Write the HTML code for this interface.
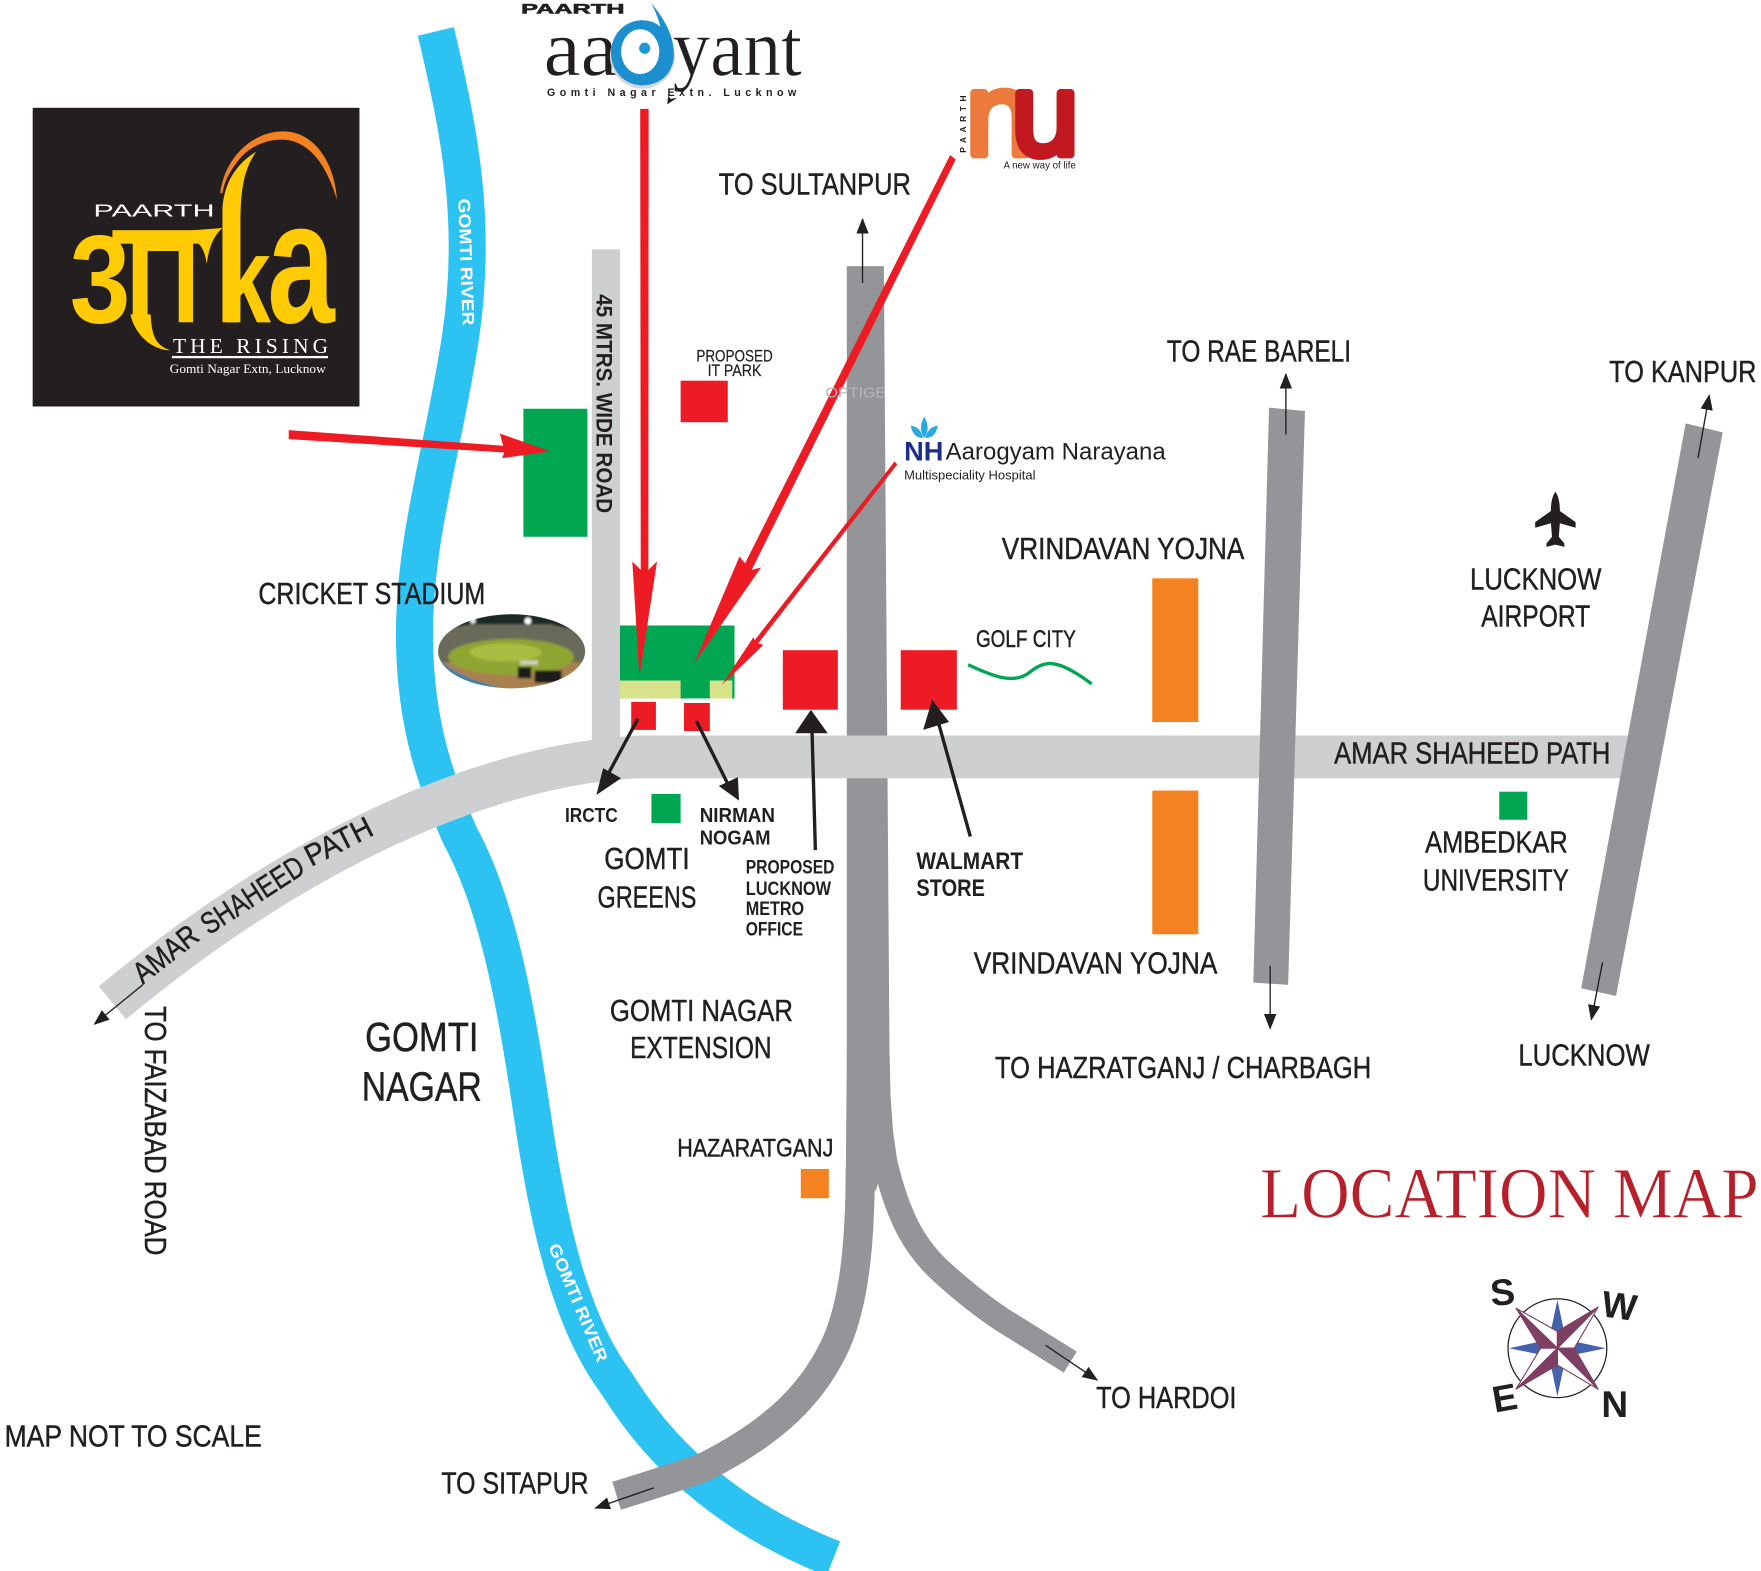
<!DOCTYPE html>
<html><head><meta charset="utf-8"><title>Location Map</title>
<style>
html,body{margin:0;padding:0;background:#fff}
svg{display:block}
text{font-family:"Liberation Sans Narrow","Liberation Sans",sans-serif;fill:#231f20}
.l text{stroke:#231f20;stroke-width:.4}
.s{font-family:"Liberation Serif",serif}
.w{font-family:"Liberation Sans",sans-serif}
</style></head><body>
<svg xmlns="http://www.w3.org/2000/svg" width="1761" height="1571" viewBox="0 0 1568 1399">
<defs>
<marker id="t" markerWidth="14" markerHeight="11" refX="13" refY="5.5" orient="auto" markerUnits="userSpaceOnUse"><path d="M0,0L14,5.5L0,11Z" fill="#231f20"/></marker>
<clipPath id="st"><ellipse cx="455.5" cy="580" rx="65.5" ry="33"/></clipPath>
<filter id="bl"><feGaussianBlur stdDeviation="1"/></filter>
</defs>
<rect width="1568" height="1399" fill="#fff"/>
<!-- river -->
<path d="M388,28C410,120 425,200 410,300C395,400 368,480 369,570C370,650 390,700 410,745C445,810 460,900 475,1000C490,1100 510,1180 549,1232C570,1265 620,1340 742,1388" fill="none" stroke="#2cc3f3" stroke-width="33"/>
<!-- dark roads -->
<path d="M754,237L787,237L792,935L793,977L795,1005L780,1060L753,1060L754,935Z" fill="#939598"/>
<path d="M766,1040C766,1110 760,1160 745,1195C725,1240 690,1275 626,1307C600,1316 575,1324 549,1332" fill="none" stroke="#939598" stroke-width="26"/>
<path d="M783,1000L788,1035C800,1085 815,1112 840,1134C860,1152 880,1167 892,1175L953,1213" fill="none" stroke="#939598" stroke-width="22"/>
<!-- light roads -->
<rect x="527" y="222" width="25" height="450" fill="#cdcfd1"/>
<path d="M1450,674L570,674C430,680 260,760 100,893" fill="none" stroke="#cdcfd1" stroke-width="38"/>
<!-- side roads -->
<polygon points="1130,363 1162,366 1147,877 1116,875" fill="#939598"/>
<polygon points="1501,377 1534,385 1439,887 1408,880" fill="#939598"/>
<!-- blocks -->
<rect x="1026" y="515" width="41" height="128" fill="#f58220"/>
<rect x="1026" y="704" width="41" height="128" fill="#f58220"/>
<rect x="466" y="364" width="57" height="114" fill="#00a651"/>
<rect x="606" y="339" width="42" height="37" fill="#ed1c24"/>
<rect x="552" y="557" width="102" height="65" fill="#00a651"/>
<rect x="552" y="606" width="54" height="16" fill="#d7e28b"/>
<rect x="632" y="606" width="20" height="16" fill="#d7e28b"/>
<rect x="562" y="625" width="22" height="25" fill="#ed1c24"/>
<rect x="609" y="626" width="23" height="25" fill="#ed1c24"/>
<rect x="697" y="579" width="49" height="53" fill="#ed1c24"/>
<rect x="802" y="579" width="50" height="53" fill="#ed1c24"/>
<rect x="580" y="707" width="26" height="26" fill="#00a651"/>
<rect x="1335" y="705" width="25" height="25" fill="#00a651"/>
<rect x="713" y="1041" width="25" height="26" fill="#f58220"/>
<!-- stadium -->
<g clip-path="url(#st)"><g filter="url(#bl)">
<rect x="385" y="542" width="142" height="76" fill="#a9814f"/>
<rect x="385" y="542" width="142" height="20" fill="#1b2a25"/>
<path d="M385,562L420,556L490,556L527,565V590H385Z" fill="#6b6a5a"/>
<ellipse cx="455" cy="585" rx="56" ry="16" fill="#8fa533"/>
<ellipse cx="450" cy="581" rx="32" ry="8" fill="#a9bd43"/>
<path d="M388,585C405,600 420,606 445,612L420,616L385,600Z" fill="#3a7fa5"/>
<circle cx="470" cy="553" r="3" fill="#fff"/><circle cx="421" cy="553" r="2.5" fill="#e8e8e8"/>
<rect x="461" y="594" width="12" height="10" fill="#1c1f1a"/>
<rect x="476" y="597" width="24" height="11" fill="#1c1f1a"/>
<rect x="463" y="588" width="16" height="4" fill="#cfd0b8"/>
</g></g>
<!-- red arrows -->
<polygon points="570,97 577.5,97 577.3,507.5 585,500 569.3,603 563,500 570.5,507.5" fill="#ed1c24"/>
<polygon points="846,138 851,142 669.3,507.5 677.7,505.4 618,591 658.4,495.6 663.4,501.6" fill="#ed1c24"/>
<polygon points="796.5,411 799,413.5 675,573 679.7,574.3 642.6,610 670.8,567.5 672,570" fill="#ed1c24"/>
<polygon points="257,383 448,397 445,386 490,402 447,408 449,403 257,391" fill="#ed1c24"/>
<!-- black arrows -->
<g stroke="#231f20" stroke-width="3" fill="#231f20">
<line x1="568" y1="640" x2="540" y2="692"/><polygon stroke="none" points="531,708 537,684 553,693"/>
<line x1="620" y1="642" x2="648" y2="698"/><polygon stroke="none" points="658,713 640,700 657,692"/>
<line x1="726" y1="757" x2="723" y2="650"/><polygon stroke="none" points="722,632 737,653 708,653"/>
<line x1="864" y1="745" x2="836" y2="645"/><polygon stroke="none" points="830,623 845,643 822,650"/>
</g>
<g stroke="#231f20" stroke-width="1.2" fill="none">
<line x1="768" y1="252" x2="768" y2="195" marker-end="url(#t)"/>
<line x1="1145" y1="387" x2="1145" y2="333" marker-end="url(#t)"/>
<line x1="1512" y1="408" x2="1522" y2="352" marker-end="url(#t)"/>
<line x1="1131" y1="860" x2="1131" y2="916" marker-end="url(#t)"/>
<line x1="1427" y1="857" x2="1417" y2="908" marker-end="url(#t)"/>
<line x1="127" y1="877" x2="84" y2="912" marker-end="url(#t)"/>
<line x1="582" y1="1325" x2="530" y2="1343" marker-end="url(#t)"/>
<line x1="931" y1="1198" x2="977" y2="1229" marker-end="url(#t)"/>
</g>
<path d="M862,592C880,600 900,610 915,600C930,588 940,585 972,609" fill="none" stroke="#00a651" stroke-width="3"/>
<!-- airplane -->
<path d="M1385,438C1388,442 1389,448 1389,455L1403,465V470L1389,466L1388,478L1393,484V487L1385,485L1377,487V484L1382,478L1381,466L1367,470V465L1381,455C1381,448 1382,442 1385,438Z" fill="#231f20"/>
<!-- compass -->
<circle cx="1386.8" cy="1200.6" r="44" fill="#fff" stroke="#231f20" stroke-width="1.1"/>
<polygon points="1386.8,1157.6 1394.3,1193 1429.8,1200.6 1394.3,1208 1386.8,1243.6 1379.3,1208 1343.8,1200.6 1379.3,1193" fill="#4562ad"/>
<g stroke="#7f3f63" stroke-width="1" stroke-linejoin="round">
<polygon points="1350,1165 1386.8,1185.6 1386.8,1200.6" fill="#fff"/>
<polygon points="1350,1165 1371.8,1200.6 1386.8,1200.6" fill="#7f3f63"/>
<polygon points="1423,1164 1401.8,1200.6 1386.8,1200.6" fill="#fff"/>
<polygon points="1423,1164 1386.8,1185.6 1386.8,1200.6" fill="#7f3f63"/>
<polygon points="1423,1237 1386.8,1215.6 1386.8,1200.6" fill="#fff"/>
<polygon points="1423,1237 1401.8,1200.6 1386.8,1200.6" fill="#7f3f63"/>
<polygon points="1350,1237 1371.8,1200.6 1386.8,1200.6" fill="#fff"/>
<polygon points="1350,1237 1386.8,1215.6 1386.8,1200.6" fill="#7f3f63"/>
</g>
<text class="w" font-weight="bold" transform="translate(1328,1163) rotate(-5)" font-size="33">S</text>
<text class="w" font-weight="bold" transform="translate(1425,1172) rotate(8)" font-size="33">W</text>
<text class="w" font-weight="bold" transform="translate(1331,1258) rotate(-10)" font-size="33">E</text>
<text class="w" font-weight="bold" transform="translate(1426,1262)" font-size="33">N</text>
<!-- labels -->
<g class="l">
<g font-size="27">
<text x="640" y="173" textLength="171" lengthAdjust="spacingAndGlyphs">TO SULTANPUR</text>
<text x="1039" y="322" textLength="164" lengthAdjust="spacingAndGlyphs">TO RAE BARELI</text>
<text x="1433" y="340" textLength="131" lengthAdjust="spacingAndGlyphs">TO KANPUR</text>
<text x="892" y="498" textLength="216" lengthAdjust="spacingAndGlyphs">VRINDAVAN YOJNA</text>
<text x="1309" y="525" textLength="117" lengthAdjust="spacingAndGlyphs">LUCKNOW</text>
<text x="1319" y="558" textLength="97" lengthAdjust="spacingAndGlyphs">AIRPORT</text>
<text x="230" y="538" textLength="202" lengthAdjust="spacingAndGlyphs">CRICKET STADIUM</text>
<text x="1188" y="680" textLength="246" lengthAdjust="spacingAndGlyphs">AMAR SHAHEED PATH</text>
<text x="1269" y="759" textLength="127" lengthAdjust="spacingAndGlyphs">AMBEDKAR</text>
<text x="1267" y="793" textLength="130" lengthAdjust="spacingAndGlyphs">UNIVERSITY</text>
<text x="538" y="774" textLength="76" lengthAdjust="spacingAndGlyphs">GOMTI</text>
<text x="532" y="808" textLength="88" lengthAdjust="spacingAndGlyphs">GREENS</text>
<text x="867" y="867" textLength="217" lengthAdjust="spacingAndGlyphs">VRINDAVAN YOJNA</text>
<text x="543" y="909" textLength="163" lengthAdjust="spacingAndGlyphs">GOMTI NAGAR</text>
<text x="561" y="942" textLength="126" lengthAdjust="spacingAndGlyphs">EXTENSION</text>
<text x="886" y="960" textLength="335" lengthAdjust="spacingAndGlyphs">TO HAZRATGANJ / CHARBAGH</text>
<text x="1352" y="949" textLength="117" lengthAdjust="spacingAndGlyphs">LUCKNOW</text>
<text x="4" y="1288" textLength="229" lengthAdjust="spacingAndGlyphs">MAP NOT TO SCALE</text>
<text x="393" y="1330" textLength="131" lengthAdjust="spacingAndGlyphs">TO SITAPUR</text>
<text x="976" y="1254" textLength="125" lengthAdjust="spacingAndGlyphs">TO HARDOI</text>
<text transform="translate(129,896) rotate(90)" textLength="222" lengthAdjust="spacingAndGlyphs">TO FAIZABAD ROAD</text>
<text transform="translate(127,877) rotate(-38)" textLength="66" lengthAdjust="spacingAndGlyphs">AMAR</text>
<text transform="translate(186,833) rotate(-33)" textLength="104" lengthAdjust="spacingAndGlyphs">SHAHEED</text>
<text transform="translate(277,772) rotate(-27)" textLength="64" lengthAdjust="spacingAndGlyphs">PATH</text>
</g>
<text x="325" y="936" font-size="36" textLength="101" lengthAdjust="spacingAndGlyphs">GOMTI</text>
<text x="322" y="980" font-size="36" textLength="107" lengthAdjust="spacingAndGlyphs">NAGAR</text>
<text x="869" y="576" font-size="21" textLength="89" lengthAdjust="spacingAndGlyphs">GOLF CITY</text>
<text x="603" y="1030" font-size="22" textLength="139" lengthAdjust="spacingAndGlyphs">HAZARATGANJ</text>
<text x="620" y="322" font-size="15" textLength="68" lengthAdjust="spacingAndGlyphs" style="stroke-width:.2">PROPOSED</text>
<text x="630" y="335" font-size="15" textLength="48" lengthAdjust="spacingAndGlyphs" style="stroke-width:.2">IT PARK</text>
</g>
<g font-weight="bold">
<text x="503" y="732" font-size="18" textLength="47" lengthAdjust="spacingAndGlyphs">IRCTC</text>
<text x="623" y="732" font-size="18" textLength="67" lengthAdjust="spacingAndGlyphs">NIRMAN</text>
<text x="623" y="752" font-size="18" textLength="63" lengthAdjust="spacingAndGlyphs">NOGAM</text>
<text x="664" y="778" font-size="17" textLength="79" lengthAdjust="spacingAndGlyphs">PROPOSED</text>
<text x="664" y="797" font-size="17" textLength="76" lengthAdjust="spacingAndGlyphs">LUCKNOW</text>
<text x="664" y="815" font-size="17" textLength="52" lengthAdjust="spacingAndGlyphs">METRO</text>
<text x="664" y="833" font-size="17" textLength="51" lengthAdjust="spacingAndGlyphs">OFFICE</text>
<text x="816" y="774" font-size="21" textLength="95" lengthAdjust="spacingAndGlyphs">WALMART</text>
<text x="816" y="798" font-size="21" textLength="61" lengthAdjust="spacingAndGlyphs">STORE</text>
<text transform="translate(531,262) rotate(90)" font-size="20" textLength="195" lengthAdjust="spacingAndGlyphs">45 MTRS. WIDE ROAD</text>
</g>
<text class="w" font-weight="bold" transform="translate(408,177) rotate(88)" font-size="15" textLength="113" lengthAdjust="spacingAndGlyphs" style="fill:#fff">GOMTI RIVER</text>
<text class="w" font-weight="bold" transform="translate(488,1110) rotate(67)" font-size="15" textLength="113" lengthAdjust="spacingAndGlyphs" style="fill:#fff">GOMTI RIVER</text>
<text x="735" y="354" font-size="13" textLength="54" lengthAdjust="spacingAndGlyphs" style="fill:#b4b6b8">OPTIGE</text>
<text class="s" x="1122" y="1084" font-size="64" textLength="444" lengthAdjust="spacingAndGlyphs" style="fill:#b5202b;stroke:#fff;stroke-width:.5">LOCATION MAP</text>
<!-- hospital -->
<path d="M823,371C827,378 827,384 823,390C819,384 819,378 823,371ZM811,379C818,380 821,385 822,390C815,390 812,385 811,379ZM835,379C828,380 825,385 824,390C831,390 834,385 835,379Z" fill="#29a9e0"/>
<text class="w" font-weight="bold" x="805" y="410" font-size="24" textLength="35" lengthAdjust="spacingAndGlyphs" style="fill:#1d2e8a">NH</text>
<text class="w" x="842" y="409" font-size="21" textLength="196" lengthAdjust="spacingAndGlyphs">Aarogyam Narayana</text>
<text class="w" x="805" y="427" font-size="11.5" textLength="117" lengthAdjust="spacingAndGlyphs">Multispeciality Hospital</text>
<!-- Aadyant logo -->
<text class="w" font-weight="bold" x="464" y="12" font-size="12.5" textLength="92" lengthAdjust="spacingAndGlyphs" style="stroke:#231f20;stroke-width:.5">PAARTH</text>
<text class="s" x="484" y="67" font-size="72" textLength="66" lengthAdjust="spacingAndGlyphs" style="stroke:#fff;stroke-width:.5">aa</text>
<text class="s" x="599" y="67" font-size="72" textLength="115" lengthAdjust="spacingAndGlyphs" style="stroke:#fff;stroke-width:.5">yant</text>
<ellipse cx="572" cy="50" rx="29" ry="29" fill="#d5d7d9"/>
<path d="M580,3C590,15 600,30 600,48C600,65 588,76 572,76C556,76 544,63 544,47C544,31 556,18 572,18C578,18 584,20 588,24C586,16 583,9 580,3Z" fill="#1c8fcf"/>
<ellipse cx="570" cy="46" rx="17" ry="20" fill="#fff"/>
<circle cx="574" cy="43" r="5" fill="#1c9ad6"/>
<text class="w" font-weight="bold" x="487" y="85.5" font-size="9.5" textLength="222">Gomti Nagar Extn. Lucknow</text>
<polygon points="594,93 603,87 597,88 595,85" fill="#231f20"/>
<!-- Nu logo -->
<text class="w" font-weight="bold" transform="translate(860,136) rotate(-90)" font-size="7.5" textLength="51">PAARTH</text>
<text x="858.4" y="137.5" font-size="100" style="font-family:'DejaVu Sans',sans-serif;fill:#ec7a3c;stroke:#ec7a3c;stroke-width:7;stroke-linejoin:round">n</text>
<text x="899" y="137.5" font-size="100" style="font-family:'DejaVu Sans',sans-serif;fill:#c1191f;stroke:#c1191f;stroke-width:7;stroke-linejoin:round">u</text>
<text class="w" x="893.5" y="150" font-size="9" textLength="64.5" lengthAdjust="spacingAndGlyphs">A new way of life</text>
<!-- Arka logo -->
<rect x="29" y="96" width="291" height="266" fill="#231f20"/>
<path d="M196,172C200,140 225,117 252,117C280,117 298,145 300,178C292,152 280,130 258,125C240,122 222,130 212,143C205,152 200,160 198,172Z" fill="#f58220"/>
<path d="M198,287L198,185C200,160 212,145 228,135C218,150 214,165 214,200L214,287Z" fill="#ffcb05"/>
<path d="M116,280C120,298 135,312 152,312C138,308 135,298 134,280Z" fill="#ffcb05"/>
<rect x="100" y="205" width="80" height="12" fill="#ffcb05"/>
<path d="M172,205L198,203C190,210 186,220 184,235C182,222 178,216 172,215Z" fill="#ffcb05"/>
<text class="w" x="83" y="193" font-size="16" textLength="108" lengthAdjust="spacingAndGlyphs" style="fill:#fff">PAARTH</text>
<g font-weight="bold">
<text class="w" x="62" y="287" font-size="112" textLength="54" lengthAdjust="spacingAndGlyphs" style="fill:#ffcb05">3</text>
<text class="w" x="112" y="287" font-size="112" textLength="66" lengthAdjust="spacingAndGlyphs" style="fill:#ffcb05">П</text>
<text class="w" x="195" y="287" font-size="112" textLength="46" lengthAdjust="spacingAndGlyphs" style="fill:#ffcb05">k</text>
<text class="w" x="238" y="287" font-size="155" textLength="60" lengthAdjust="spacingAndGlyphs" style="fill:#ffcb05">a</text>
</g>
<text class="s" x="154" y="314.5" font-size="19" textLength="138" style="fill:#fff">THE RISING</text>
<rect x="153" y="317" width="139" height="2" fill="#fff"/>
<text class="s" x="151" y="332" font-size="11.5" textLength="139" lengthAdjust="spacingAndGlyphs" style="fill:#fff">Gomti Nagar Extn, Lucknow</text>
</svg>
</body></html>
